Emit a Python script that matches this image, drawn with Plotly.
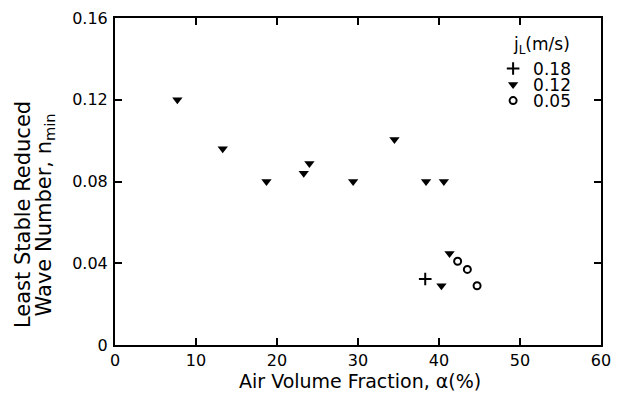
import plotly.graph_objects as go

# Data
alpha_018 = [38.3]
n_018 = [0.0323]

alpha_012 = [7.7, 13.3, 18.7, 23.3, 24.0, 29.4, 34.5, 38.4, 40.6, 41.3, 40.3]
n_012 = [0.120, 0.096, 0.080, 0.084, 0.0888, 0.080, 0.1005, 0.080, 0.080, 0.0448, 0.029]

alpha_005 = [42.3, 43.5, 44.7]
n_005 = [0.041, 0.037, 0.029]

x_ticks = [0, 10, 20, 30, 40, 50, 60]
y_ticks = [0, 0.04, 0.08, 0.12, 0.16]
y_tick_text = ["0", "0.04", "0.08", "0.12", "0.16"]

FONT = "DejaVu Sans"

fig = go.Figure()
fig.add_trace(go.Scatter(
    x=alpha_018, y=n_018, mode="markers", name="0.18", legend="legend",
    marker=dict(symbol="cross-thin", size=9, color="black",
                line=dict(color="black", width=2)),
))
fig.add_trace(go.Scatter(
    x=alpha_012, y=n_012, mode="markers", name="0.12", legend="legend2",
    marker=dict(symbol="triangle-down", size=9, color="black"),
))
fig.add_trace(go.Scatter(
    x=alpha_005, y=n_005, mode="markers", name="0.05", legend="legend3",
    marker=dict(symbol="circle-open", size=7, color="black",
                line=dict(color="black", width=2)),
))

leg_common = dict(xanchor="left", yanchor="middle", bgcolor="rgba(0,0,0,0)",
                  font=dict(size=17, family=FONT), itemwidth=30, x=0.778)
axis_common = dict(ticks="inside", ticklen=7, tickwidth=1.5, tickcolor="black",
                   mirror="ticks", showline=True, linecolor="black", linewidth=2,
                   showgrid=False, zeroline=False, tickfont=dict(size=16),
                   automargin=False)

# the page adds an 8px body margin, so the figure is offset by 8px
fig.update_layout(
    width=604, height=387,
    margin=dict(l=107, r=11, t=10, b=50),
    paper_bgcolor="white", plot_bgcolor="white",
    font=dict(family=FONT, color="black", size=16),
    showlegend=True,
    legend=dict(y=0.844, **leg_common),
    legend2=dict(y=0.795, **leg_common),
    legend3=dict(y=0.746, **leg_common),
    xaxis=dict(range=[0, 60], tickvals=x_ticks, ticklabelstandoff=0, **axis_common),
    yaxis=dict(range=[0, 0.16], tickvals=y_ticks, ticktext=y_tick_text,
               ticklabelstandoff=2, **axis_common),
    annotations=[
        dict(text="Air Volume Fraction, α(%)", xref="paper", yref="paper",
             x=0.504, y=-0.109, xanchor="center", yanchor="middle",
             showarrow=False, font=dict(size=19)),
        dict(text="Least Stable Reduced",
             xref="paper", yref="paper", x=-0.189, y=0.398, textangle=-90,
             xanchor="center", yanchor="middle", showarrow=False,
             font=dict(size=21)),
        dict(text="Wave Number, n<sub>min</sub>",
             xref="paper", yref="paper", x=-0.145, y=0.398, textangle=-90,
             xanchor="center", yanchor="middle", showarrow=False,
             font=dict(size=21)),
        dict(text="j<sub>L</sub>(m/s)", xref="paper", yref="paper",
             x=0.877, y=0.917, xanchor="center", yanchor="middle",
             showarrow=False, font=dict(size=17)),
    ],
)

fig.write_html("out.html")
